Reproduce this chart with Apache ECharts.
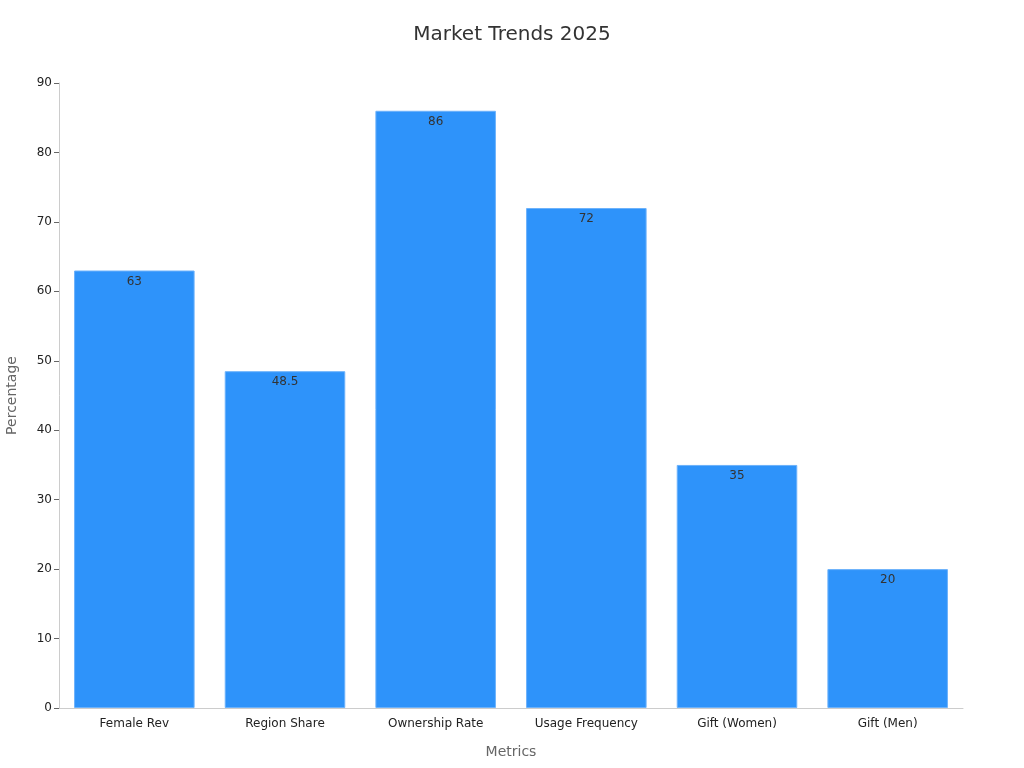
<!DOCTYPE html>
<html>
<head>
<meta charset="utf-8">
<script src="https://cdn.jsdelivr.net/npm/echarts@6/dist/echarts.min.js"></script>
<style>
  html, body { margin: 0; padding: 0; background: #fff; }
  #chart { width: 1024px; height: 768px; }
</style>
</head>
<body>
<div id="chart"></div>
<script>
const categories = ['Female Rev', 'Region Share', 'Ownership Rate', 'Usage Frequency', 'Gift (Women)', 'Gift (Men)']
const percentages = [63, 48.5, 86, 72, 35, 20]
const yTicks = { min: 0, max: 90, interval: 10 }

const chart = echarts.init(document.getElementById('chart'))
chart.setOption({
  textStyle: { fontFamily: 'DejaVu Sans' },
  title: {
    text: 'Market Trends 2025',
    left: 'center',
    top: 20,
    textStyle: { fontSize: 20, fontWeight: 'normal', color: '#333', fontFamily: 'DejaVu Sans' }
  },
  grid: { left: 59, right: 61, top: 83, bottom: 60, containLabel: false, outerBoundsMode: 'none' },
  xAxis: {
    type: 'category',
    data: categories,
    name: 'Metrics',
    nameLocation: 'middle',
    nameGap: 37,
    nameTextStyle: { fontSize: 14, color: '#666' },
    axisLine: { lineStyle: { color: '#ccc' } },
    axisTick: { alignWithLabel: true, length: 4, lineStyle: { color: '#666' } },
    axisLabel: { color: '#222', fontSize: 12, margin: 10 }
  },
  yAxis: {
    type: 'value',
    min: yTicks.min,
    max: yTicks.max,
    interval: yTicks.interval,
    name: 'Percentage',
    nameLocation: 'middle',
    nameGap: 40,
    nameTextStyle: { fontSize: 14, color: '#666' },
    axisLine: { show: true, lineStyle: { color: '#ccc' } },
    axisTick: { show: true, length: 5, lineStyle: { color: '#666' } },
    axisLabel: { color: '#222', fontSize: 12, margin: 7 },
    splitLine: { show: false }
  },
  series: [{
    type: 'bar',
    data: percentages,
    barCategoryGap: '20%',
    itemStyle: { color: '#2e93fa', borderColor: '#6cb2fb', borderWidth: 1 },
    label: { show: true, position: 'insideTop', color: '#333', fontSize: 12, distance: 5 }
  }]
})
window.addEventListener('resize', () => chart.resize())
</script>
</body>
</html>
